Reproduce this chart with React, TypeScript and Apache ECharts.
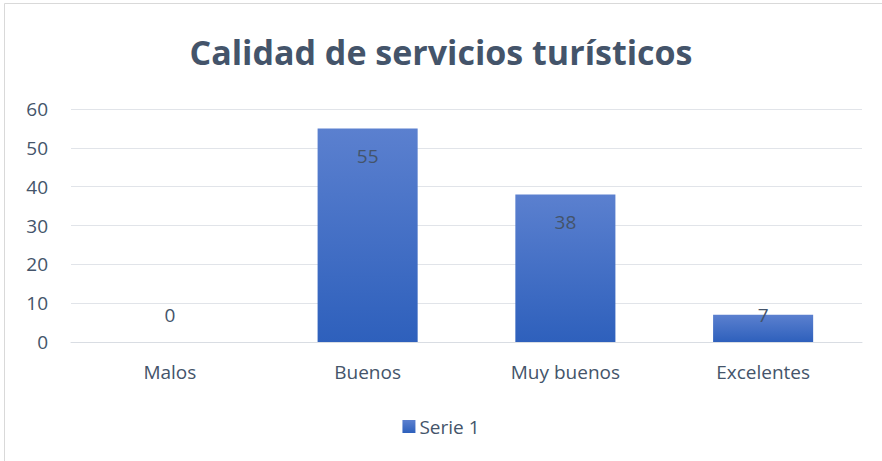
import React, { useEffect, useRef } from "react";
import * as echarts from "echarts";

const categories = ["Malos", "Buenos", "Muy buenos", "Excelentes"];
const values = [0, 55, 38, 7];
const seriesName = "Serie 1";
const titleText = "Calidad de servicios turísticos";
const yMin = 0;
const yMax = 60;
const yInterval = 10;

const W = 882;
const H = 461;
const GRID = { left: 71, right: 20, top: 109, bottom: 119 };
const TEXT = "#44546A";
const FONT = "Open Sans";
const FS = 19;

export default function App() {
  const ref = useRef<HTMLDivElement>(null);
  useEffect(() => {
    document.body.style.margin = "0";
    const chart = echarts.init(ref.current!, null, { renderer: "svg" });
    const baseline = H - GRID.bottom;
    const grad = new echarts.graphic.LinearGradient(0, 0, 0, 1, [
      { offset: 0, color: "#5B80CF" },
      { offset: 1, color: "#2E60BC" },
    ]);
    chart.setOption({
      animation: false,
      backgroundColor: "#ffffff",
      textStyle: { fontFamily: FONT },
      title: {
        text: titleText,
        left: "center",
        top: 30,
        textStyle: { fontFamily: FONT, fontSize: 34, fontWeight: "bold", color: TEXT },
      },
      graphic: [
        {
          type: "rect",
          shape: { x: 4.5, y: 3.5, width: 1000, height: 1000 },
          style: { fill: "none", stroke: "#D9D9D9", lineWidth: 1 },
          silent: true,
        },
      ],
      legend: {
        bottom: 20,
        left: "center",
        itemWidth: 13,
        itemHeight: 13,
        itemGap: 10,
        icon: "rect",
        textStyle: { fontFamily: FONT, fontSize: FS, color: TEXT, padding: [0, 0, 0, -1] },
        data: [seriesName],
      },
      grid: { ...GRID, containLabel: false },
      xAxis: {
        type: "category",
        data: categories,
        axisLine: { show: true, lineStyle: { color: "#D9DDE3", width: 1 } },
        axisTick: { show: false },
        axisLabel: { color: TEXT, fontFamily: FONT, fontSize: FS, margin: 20 },
      },
      yAxis: {
        type: "value",
        min: yMin,
        max: yMax,
        interval: yInterval,
        axisLine: { show: false },
        axisTick: { show: false },
        splitLine: { lineStyle: { color: "#E1E4E9", width: 1 } },
        axisLabel: { color: TEXT, fontFamily: FONT, fontSize: FS, margin: 23 },
      },
      series: [
        {
          name: seriesName,
          type: "bar",
          data: values,
          barWidth: "50.6%",
          itemStyle: { color: grad },
          label: {
            show: true,
            position: "insideTop",
            distance: 18,
            color: TEXT,
            fontFamily: FONT,
            fontSize: FS,
          },
          labelLayout: (params: any) => {
            const r = params.labelRect;
            const cy = r.y + r.height / 2;
            const limit = baseline - 27;
            return {
              x: r.x + r.width / 2,
              y: Math.min(cy, limit),
              align: "center",
              verticalAlign: "middle",
            };
          },
        },
      ],
    });
    return () => chart.dispose();
  }, []);
  return <div ref={ref} style={{ position: "fixed", left: 0, top: 0, width: W, height: H }} />;
}
